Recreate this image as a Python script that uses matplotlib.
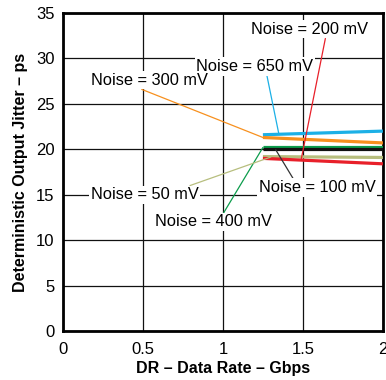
import matplotlib
matplotlib.use("Agg")
import matplotlib.pyplot as plt

plt.rcParams['font.family'] = ['Liberation Sans', 'DejaVu Sans']

# data rate (Gbps) and jitter (ps) for each noise level
rate = [1.25, 2.0]
noise_labels = ['Noise = 650 mV', 'Noise = 300 mV', 'Noise = 400 mV',
                'Noise = 100 mV', 'Noise = 50 mV', 'Noise = 200 mV']
jitter_650 = [21.6, 22.0]
jitter_300 = [21.3, 20.7]
jitter_400 = [20.2, 20.2]
jitter_100 = [20.0, 20.0]
jitter_50 = [19.2, 19.1]
jitter_200 = [19.0, 18.4]
series = [jitter_650, jitter_300, jitter_400, jitter_100, jitter_50, jitter_200]
colors = ['#1cb0e6', '#f7901e', '#0c9c4c', '#111111', '#b7be7e', '#e8202a']
order = [1, 2, 3, 4, 5, 6]

# label layout: pointer target, text centre, where the pointer leaves the text
point_at = [(1.35, 21.65), (1.25, 21.3), (1.25, 20.2), (1.33, 19.95), (1.30, 19.15), (1.49, 18.95)]
text_at = [(1.20, 29.1), (0.54, 27.6), (0.94, 12.0), (1.59, 15.8), (0.51, 15.0), (1.54, 33.2)]
rel = [(0.6, 0.0), (0.4, 0.0), (0.58, 1.0), (0.3, 1.0), (0.78, 0.75), (0.64, 0.0)]
pointer_colors = ['#1cb0e6', '#f7901e', '#0c9c4c', '#333333', '#b7be7e', '#e8202a']

fig = plt.figure(figsize=(3.86, 3.80), dpi=100)
ax = fig.add_axes([0.163, 1 - 331 / 380, 0.829, 318 / 380])

for y, c, z in zip(series, colors, order):
    ax.plot(rate, y, color=c, lw=2.3, solid_capstyle='butt', zorder=3 + z * 0.1)

for lab, xy, xyt, rp, pc in zip(noise_labels, point_at, text_at, rel, pointer_colors):
    ax.annotate(lab, xy=xy, xytext=xyt, ha='center', va='center', fontsize=11.8,
                bbox=dict(boxstyle='square,pad=0.1', fc='white', ec='none'),
                arrowprops=dict(arrowstyle='-', color=pc, lw=0.9, relpos=rp,
                                shrinkA=0, shrinkB=0),
                zorder=5)

ax.set_xlim(0, 2)
ax.set_ylim(0, 35)
ax.set_xticks([0, 0.5, 1, 1.5, 2])
ax.set_xticklabels(['0', '0.5', '1', '1.5', '2'])
ax.set_yticks(range(0, 36, 5))
ax.grid(True, color='#111111', lw=0.9)
ax.set_axisbelow(True)
ax.tick_params(axis='x', length=0, labelsize=12, pad=8)
ax.tick_params(axis='y', length=0, labelsize=12, pad=6)
for s in ax.spines.values():
    s.set_linewidth(2)
ax.set_xlabel('DR – Data Rate – Gbps', fontsize=11.5, fontweight='bold', labelpad=3)
ax.set_ylabel('Deterministic Output Jitter – ps', fontsize=11.5, fontweight='bold', labelpad=6)

fig.savefig('out.png', dpi=100)
